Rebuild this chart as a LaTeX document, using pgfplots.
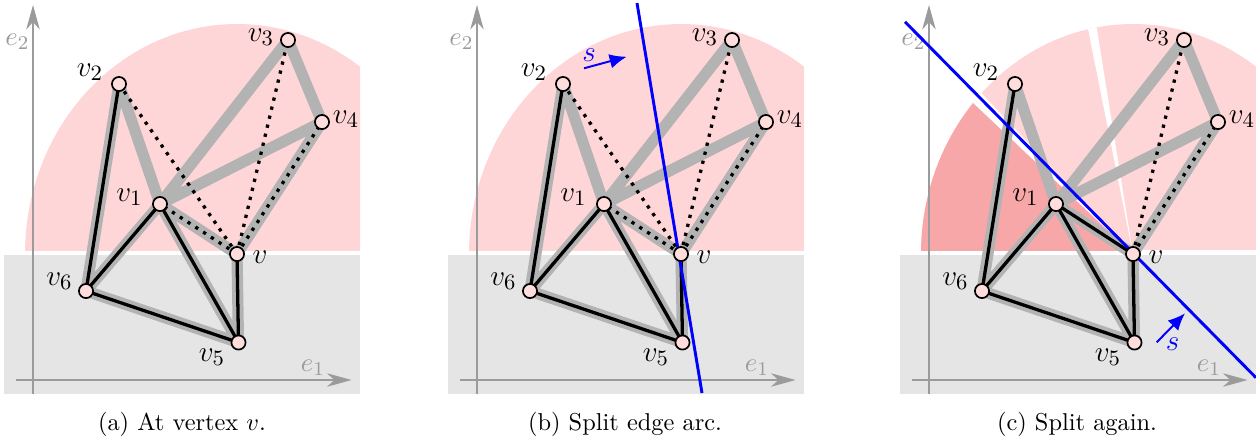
\documentclass[border=0pt]{standalone}
\usepackage{pgfplots}
\pgfplotsset{compat=1.18}
\usetikzlibrary{arrows.meta}
\definecolor{lpink}{RGB}{255,214,215}
\definecolor{dpink}{RGB}{248,167,169}
\definecolor{vpink}{RGB}{255,221,221}
\definecolor{rectgray}{RGB}{229,229,229}
\definecolor{edgegray}{RGB}{179,179,179}
\definecolor{axgray}{RGB}{155,155,155}
\pgfplotsset{
  panel/.style={x=0.41pt, y=0.41pt, y dir=reverse, xmin=0, xmax=360, ymin=0, ymax=440,
    hide axis, clip=false, anchor=north west, enlargelimits=false},
  gedge/.style={edgegray, line width=4.6pt, line cap=round, line join=round, unbounded coords=jump},
  bedge/.style={black, line width=1.35pt, line cap=round, line join=round, unbounded coords=jump},
  dedge/.style={black, line width=1.35pt, dash pattern=on 1.35pt off 2.45pt, unbounded coords=jump},
  verts/.style={only marks, mark=*, mark size=2.9pt, mark options={fill=vpink, draw=black, line width=0.7pt}},
  axarrow/.style={axgray, line width=0.6pt, -{Stealth[length=10pt, width=5.5pt, inset=3pt]}},
}
\tikzset{
  vlab/.style={inner sep=0pt, font=\fontsize{12.7}{15}\selectfont},
  elab/.style={inner sep=0pt, text=axgray, font=\fontsize{11}{13}\selectfont},
}
% gray rectangle (lower half-plane)
\newcommand{\lowerrect}{%
  \addplot[fill=rectgray, draw=none] coordinates {(4,255) (360,255) (360,393.5) (4,393.5)};
}
% plain pink half disk
\newcommand{\plaindisk}{%
  \pgfplotsextra{%
    \begin{scope}
      \clip (axis cs:4,0) rectangle (axis cs:360,250);
      \fill[lpink] (axis cs:237,254) ellipse [x radius=86.92pt, y radius=94.3pt];
    \end{scope}}%
}
\newcommand{\coordaxes}{%
  \addplot[axarrow] coordinates {(33,393.5) (33,5)};
  \addplot[axarrow] coordinates {(16,380) (351.5,380)};
  \node[elab] at (axis cs:17.5,42) {$e_2$};
  \node[elab] at (axis cs:313,368) {$e_1$};
}
\newcommand{\grayedges}{%
  \addplot[gedge] coordinates {(86,291) (119,84) (160,204) (288,40) (322,122) (237,254) (238.5,342.5) (160,204) (86,291) (238.5,342.5)
    (nan,nan) (160,204) (322,122) (nan,nan) (160,204) (237,254)};
}
\newcommand{\vertices}{%
  \addplot[verts] coordinates {(160,204) (119,84) (288,40) (322,122) (237,254) (238.5,342.5) (86,291)};
}
\newcommand{\vlabels}{%
  \node[vlab] at (axis cs:90,72) {$v_2$};
  \node[vlab] at (axis cs:261,37) {$v_3$};
  \node[vlab] at (axis cs:346,119) {$v_4$};
  \node[vlab] at (axis cs:129.5,197) {$v_1$};
  \node[vlab] at (axis cs:260,257) {$v$};
  \node[vlab] at (axis cs:59.5,281) {$v_6$};
  \node[vlab] at (axis cs:212,357) {$v_5$};
}
\begin{document}
\begin{tikzpicture}
% ---------------- (a) ----------------
\begin{axis}[panel, at={(0pt,0pt)}]
  \lowerrect
  \plaindisk
  \coordaxes
  \grayedges
  \addplot[bedge] coordinates {(119,84) (86,291) (160,204) (238.5,342.5) (237,254) (nan,nan) (86,291) (238.5,342.5)};
  \addplot[dedge] coordinates {(237,254) (119,84) (nan,nan) (237,254) (288,40) (nan,nan) (237,254) (322,122) (nan,nan) (237,254) (160,204)};
  \vertices
  \vlabels
  \node[anchor=base] at (axis cs:182,430) {(a) At vertex $v$.};
\end{axis}
% ---------------- (b) ----------------
\begin{axis}[panel, at={(182.04pt,0pt)}]
  \lowerrect
  \plaindisk
  \coordaxes
  \grayedges
  \addplot[bedge] coordinates {(119,84) (86,291) (160,204) (238.5,342.5) (237,254) (nan,nan) (86,291) (238.5,342.5)};
  \addplot[dedge] coordinates {(237,254) (119,84) (nan,nan) (237,254) (288,40) (nan,nan) (237,254) (322,122) (nan,nan) (237,254) (160,204)};
  \vertices
  \addplot[blue, line width=1.2pt] coordinates {(193,3) (258,393)};
  \addplot[blue, line width=0.8pt, -{Latex[length=7pt, width=6pt]}] coordinates {(140,68.3) (182.7,56.7)};
  \node[vlab, text=blue] at (axis cs:145,55) {$s$};
  \vlabels
  \node[anchor=base] at (axis cs:181,430) {(b) Split edge arc.};
\end{axis}
% ---------------- (c) ----------------
\begin{axis}[panel, at={(367.36pt,0pt)}]
  \lowerrect
  \pgfplotsextra{%
    \begin{scope}
      \clip (axis cs:4,0) rectangle (axis cs:360,250);
      \clip (axis cs:237,254) ellipse [x radius=86.92pt, y radius=94.3pt];
      \fill[lpink] (axis cs:0,0) rectangle (axis cs:360,250);
      \fill[dpink] (axis cs:237,254) -- (axis cs:-53.6,-20.8) -- (axis cs:-200,-20.8) -- (axis cs:-200,254) -- cycle;
      \fill[white] (axis cs:237,254) -- (axis cs:-37.3,-37.1) -- (axis cs:-53.6,-20.8) -- cycle;
      \fill[white] (axis cs:237,254) -- (axis cs:173.7,-141) -- (axis cs:158.6,-138.2) -- cycle;
    \end{scope}}
  \coordaxes
  \grayedges
  \addplot[bedge] coordinates {(119,84) (86,291) (160,204) (237,254) (238.5,342.5) (86,291) (nan,nan) (160,204) (238.5,342.5)};
  \addplot[dedge] coordinates {(237,254) (288,40) (nan,nan) (237,254) (322,122)};
  \vertices
  \addplot[blue, line width=1.2pt] coordinates {(9,21.8) (360,377.7)};
  \addplot[blue, line width=0.8pt, -{Latex[length=7pt, width=6pt]}] coordinates {(260.7,342.3) (289,313.3)};
  \node[vlab, text=blue] at (axis cs:276.5,344) {$s$};
  \vlabels
  \node[anchor=base] at (axis cs:181,430) {(c) Split again.};
\end{axis}
\pgfresetboundingbox
\useasboundingbox (0pt,0pt) rectangle (514.96pt,-180.4pt);
\end{tikzpicture}
\end{document}
